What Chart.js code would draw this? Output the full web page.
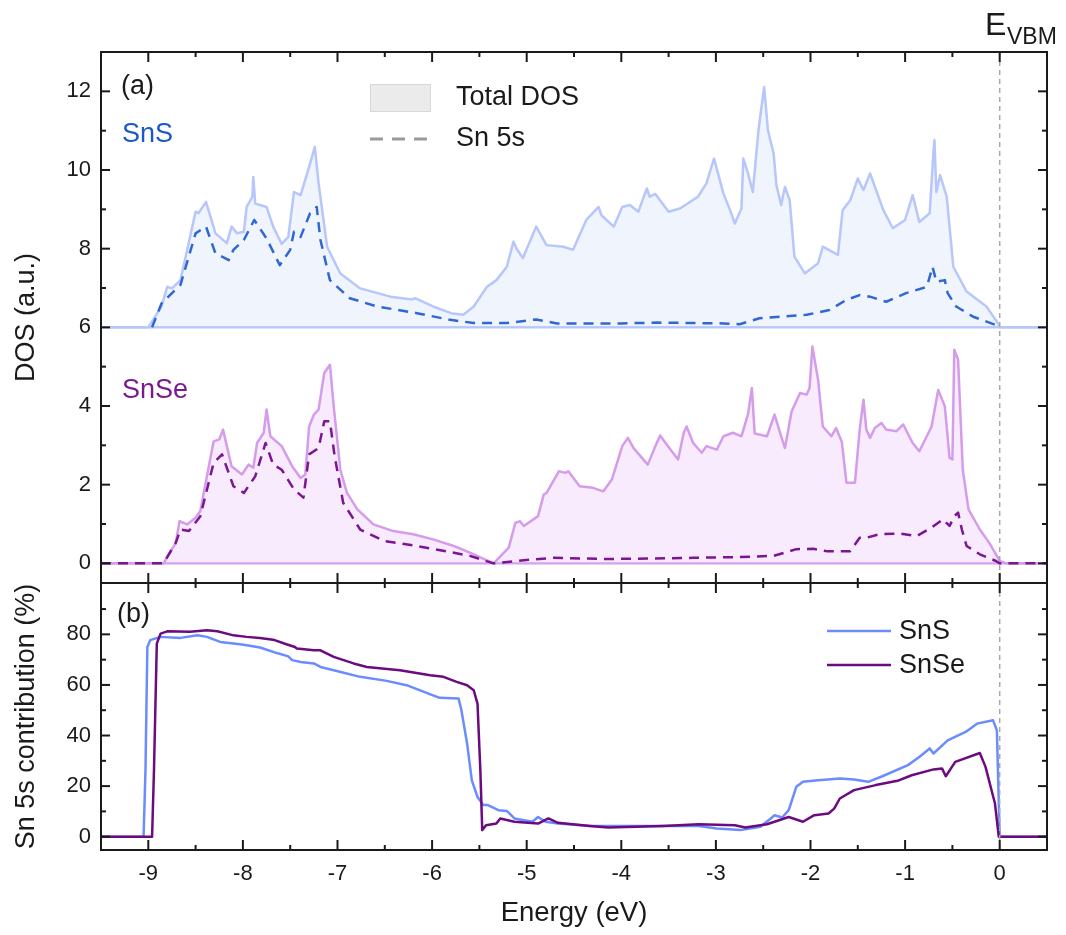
<!DOCTYPE html>
<html>
<head>
<meta charset="utf-8">
<script src="https://cdn.jsdelivr.net/npm/chart.js@4.4.1/dist/chart.umd.min.js"></script>
<style>
  body { margin: 0; background: #fff; }
  canvas { display: block; }
</style>
</head>
<body>
<canvas id="dosChart" width="1066" height="935"></canvas>
<script>
// tick labels
const xTicks = [-9, -8, -7, -6, -5, -4, -3, -2, -1, 0];
const yTopTicks = [0, 2, 4, 6, 8, 10, 12];
const yBotTicks = [0, 20, 40, 60, 80];

// SnS curve is shifted up by this much in panel (a)
const snsOffset = 6;

// panel (a): SnS total DOS
const snsTotalE = [-9.5, -9.0, -8.86, -8.80, -8.75, -8.66, -8.50, -8.47, -8.39, -8.29, -8.17, -8.12, -8.06, -7.99, -7.96, -7.90, -7.89, -7.87, -7.75, -7.68, -7.59, -7.52, -7.46, -7.39, -7.29, -7.24, -7.20, -7.11, -6.97, -6.76, -6.44, -6.21, -6.18, -5.99, -5.80, -5.67, -5.56, -5.42, -5.39, -5.32, -5.21, -5.14, -5.11, -5.04, -4.90, -4.79, -4.61, -4.51, -4.37, -4.24, -4.21, -4.08, -3.99, -3.91, -3.82, -3.73, -3.70, -3.64, -3.50, -3.38, -3.19, -3.10, -3.02, -2.92, -2.85, -2.80, -2.73, -2.71, -2.66, -2.61, -2.55, -2.49, -2.45, -2.39, -2.36, -2.31, -2.27, -2.22, -2.17, -2.06, -1.92, -1.87, -1.71, -1.66, -1.58, -1.50, -1.44, -1.37, -1.23, -1.13, -1.00, -0.92, -0.85, -0.74, -0.70, -0.69, -0.67, -0.63, -0.56, -0.49, -0.35, -0.14, -0.02, 0.0, 0.5];
const snsTotalDos = [0, 0, 0.53, 1.03, 0.99, 1.20, 2.94, 2.90, 3.19, 2.39, 2.14, 2.56, 2.39, 2.43, 3.06, 3.32, 3.82, 3.15, 3.06, 2.56, 2.12, 2.30, 3.44, 3.36, 4.16, 4.59, 3.66, 2.05, 1.37, 0.99, 0.78, 0.71, 0.74, 0.53, 0.36, 0.32, 0.53, 1.03, 1.08, 1.20, 1.54, 2.18, 2.01, 1.76, 2.56, 2.09, 2.05, 1.97, 2.73, 3.06, 2.85, 2.56, 3.06, 3.11, 2.94, 3.53, 3.32, 3.39, 2.94, 3.02, 3.32, 3.66, 4.29, 3.40, 2.98, 2.64, 3.02, 4.29, 3.91, 3.44, 5.01, 6.11, 5.01, 4.42, 3.61, 3.11, 3.57, 3.23, 1.80, 1.37, 1.63, 2.05, 1.84, 2.98, 3.23, 3.78, 3.49, 3.91, 2.98, 2.52, 2.73, 3.36, 2.68, 2.90, 4.46, 4.76, 3.44, 3.87, 3.32, 1.54, 0.91, 0.53, 0.11, 0, 0];

// panel (a): SnS Sn 5s
const snsS5E = [-8.96, -8.86, -8.66, -8.50, -8.39, -8.29, -8.15, -8.10, -7.99, -7.88, -7.75, -7.61, -7.50, -7.46, -7.39, -7.29, -7.22, -7.18, -7.08, -6.87, -6.58, -6.16, -5.81, -5.56, -5.21, -4.90, -4.68, -4.00, -3.62, -2.92, -2.75, -2.54, -2.04, -1.80, -1.62, -1.48, -1.37, -1.20, -0.99, -0.77, -0.71, -0.67, -0.58, -0.55, -0.46, -0.28, -0.04, 0];
const snsS5Dos = [0, 0.61, 1.08, 2.39, 2.56, 1.88, 1.71, 1.97, 2.22, 2.73, 2.26, 1.58, 1.97, 2.43, 2.30, 2.90, 3.06, 2.22, 1.20, 0.74, 0.53, 0.36, 0.19, 0.11, 0.11, 0.20, 0.10, 0.10, 0.12, 0.10, 0.08, 0.23, 0.32, 0.44, 0.70, 0.82, 0.78, 0.65, 0.87, 1.03, 1.54, 1.16, 1.20, 0.87, 0.53, 0.27, 0.06, 0];

// panel (a): SnSe total DOS
const snseTotalE = [-9.5, -8.84, -8.71, -8.67, -8.59, -8.50, -8.45, -8.31, -8.25, -8.21, -8.12, -8.01, -7.94, -7.89, -7.85, -7.78, -7.75, -7.71, -7.59, -7.48, -7.39, -7.34, -7.30, -7.25, -7.20, -7.14, -7.08, -7.04, -6.97, -6.90, -6.79, -6.62, -6.41, -6.20, -5.99, -5.77, -5.60, -5.35, -5.19, -5.12, -5.07, -5.03, -4.88, -4.82, -4.79, -4.66, -4.59, -4.56, -4.44, -4.30, -4.19, -4.10, -3.99, -3.93, -3.87, -3.72, -3.64, -3.59, -3.52, -3.40, -3.34, -3.31, -3.24, -3.15, -3.10, -2.99, -2.92, -2.82, -2.73, -2.66, -2.62, -2.59, -2.46, -2.38, -2.31, -2.27, -2.20, -2.11, -2.04, -2.01, -1.98, -1.92, -1.87, -1.78, -1.73, -1.67, -1.62, -1.53, -1.48, -1.44, -1.41, -1.37, -1.32, -1.25, -1.20, -1.09, -1.02, -0.92, -0.85, -0.72, -0.65, -0.58, -0.53, -0.50, -0.48, -0.44, -0.39, -0.33, -0.21, -0.11, 0, 0.07, 0.5];
const snseTotalDos = [0, 0, 0.52, 1.07, 0.99, 1.16, 1.33, 3.10, 3.15, 3.40, 2.47, 2.26, 2.51, 2.43, 3.06, 3.32, 3.91, 3.23, 2.98, 2.47, 2.17, 2.26, 3.48, 3.78, 3.91, 4.84, 5.05, 3.99, 2.38, 1.79, 1.37, 0.99, 0.82, 0.74, 0.61, 0.44, 0.27, 0, 0.40, 1.03, 1.07, 0.95, 1.20, 1.75, 1.79, 2.34, 2.30, 2.34, 1.96, 1.92, 1.83, 2.13, 2.98, 3.19, 2.93, 2.51, 2.98, 3.25, 3.02, 2.64, 3.32, 3.48, 3.06, 2.81, 2.98, 2.89, 3.23, 3.32, 3.23, 3.80, 4.46, 3.30, 3.23, 3.78, 3.23, 2.93, 3.86, 4.33, 4.29, 4.46, 5.51, 4.67, 3.48, 3.23, 3.44, 3.10, 2.05, 2.05, 3.40, 4.16, 3.40, 3.19, 3.44, 3.57, 3.40, 3.36, 3.53, 3.06, 2.85, 3.48, 4.41, 3.99, 2.68, 2.64, 5.43, 5.18, 2.38, 1.37, 0.86, 0.52, 0.06, 0, 0];

// panel (a): SnSe Sn 5s
const snseS5E = [-9.5, -8.84, -8.71, -8.66, -8.57, -8.45, -8.31, -8.22, -8.10, -7.99, -7.87, -7.76, -7.68, -7.59, -7.46, -7.36, -7.30, -7.20, -7.14, -7.08, -7.03, -6.94, -6.76, -6.51, -6.16, -5.77, -5.60, -5.35, -5.03, -4.72, -4.15, -3.73, -3.24, -2.75, -2.39, -2.15, -1.97, -1.83, -1.58, -1.48, -1.41, -1.27, -1.06, -0.88, -0.72, -0.60, -0.53, -0.48, -0.44, -0.40, -0.35, -0.21, -0.04, 0, 0.5];
const snseS5Dos = [0, 0, 0.52, 0.86, 0.82, 1.20, 2.55, 2.77, 1.96, 1.79, 2.21, 3.06, 2.51, 2.38, 1.88, 1.67, 2.77, 2.93, 3.61, 3.61, 2.72, 1.54, 0.86, 0.57, 0.44, 0.27, 0.19, 0, 0.08, 0.14, 0.11, 0.12, 0.14, 0.16, 0.19, 0.36, 0.37, 0.31, 0.31, 0.65, 0.65, 0.74, 0.76, 0.69, 0.91, 1.12, 0.95, 1.20, 1.29, 0.86, 0.44, 0.23, 0.06, 0, 0];

// zero line under both DOS curves
const baseE = [-9.5, 0.5];
const baseDos = [0, 0];

// panel (b): Sn 5s contribution (%)
const snsContribE = [-9.5, -9.05, -9.03, -9.01, -8.98, -8.87, -8.66, -8.48, -8.38, -8.24, -8.03, -7.96, -7.82, -7.64, -7.52, -7.48, -7.39, -7.25, -7.18, -7.04, -6.76, -6.48, -6.27, -5.99, -5.92, -5.72, -5.69, -5.63, -5.58, -5.52, -5.46, -5.41, -5.30, -5.21, -5.13, -4.94, -4.88, -4.80, -4.67, -4.33, -3.76, -3.18, -2.99, -2.74, -2.53, -2.42, -2.38, -2.30, -2.23, -2.15, -2.08, -1.92, -1.69, -1.54, -1.39, -1.24, -0.97, -0.85, -0.74, -0.70, -0.55, -0.36, -0.24, -0.07, -0.03, 0, 0.5];
const snsContrib = [0, 0, 26, 75, 77.7, 79, 78.6, 79.6, 79, 77, 76.1, 75.7, 74.8, 72.6, 71.3, 69.8, 69.1, 68.5, 67.1, 65.8, 63.2, 61.6, 59.9, 55.9, 54.9, 54.6, 50, 36.8, 22.3, 15.7, 12.5, 12.5, 10.5, 10.2, 7.2, 5.9, 7.8, 5.9, 5.2, 4.2, 4.2, 4.2, 3.2, 2.6, 3.9, 7.2, 8.5, 7.6, 10.5, 19.7, 21.7, 22.3, 23, 22.6, 21.7, 23.9, 28.3, 31.5, 34.9, 32.9, 38.1, 41.4, 44.7, 46, 42.1, 0, 0];

const snseContribE = [-9.5, -8.96, -8.94, -8.91, -8.87, -8.80, -8.56, -8.38, -8.27, -8.10, -7.96, -7.82, -7.68, -7.54, -7.45, -7.43, -7.25, -7.18, -7.04, -6.83, -6.69, -6.34, -6.02, -5.88, -5.74, -5.63, -5.56, -5.52, -5.49, -5.47, -5.43, -5.32, -5.28, -5.13, -4.88, -4.77, -4.67, -4.33, -4.14, -3.56, -3.18, -2.80, -2.69, -2.46, -2.23, -2.08, -1.96, -1.81, -1.75, -1.69, -1.54, -1.31, -1.08, -0.93, -0.70, -0.61, -0.57, -0.47, -0.21, -0.15, -0.05, -0.01, 0.5];
const snseContrib = [0, 0, 26.3, 76.4, 80.3, 81.2, 81, 81.6, 81.2, 79.6, 79, 78.6, 77.9, 76.1, 75, 74.4, 73.7, 73.7, 71.1, 68.5, 67.1, 65.8, 63.8, 63.2, 61.2, 59.9, 57.9, 52.6, 26.3, 2.6, 4.5, 5.2, 7.2, 5.9, 5.2, 7.2, 5.5, 4.2, 3.6, 4.2, 4.9, 4.5, 3.6, 4.9, 7.8, 5.9, 8.5, 9.2, 11.1, 15.1, 18.4, 20.4, 22.1, 24.3, 26.6, 27, 23.9, 29.6, 33.1, 27.6, 13.1, 0, 0];

const FONT = '"Liberation Sans", Arial, sans-serif';
Chart.defaults.font.family = FONT;
Chart.defaults.color = '#1a1a1a';

function pts(xs, ys, off) {
  return xs.map(function (x, i) { return { x: x, y: ys[i] + (off || 0) }; });
}

// frame, inward ticks, E_VBM line, panel labels and legends
const framePlugin = {
  id: 'frame',
  afterDatasetsDraw: function (chart) {
    const ctx = chart.ctx;
    const a = chart.chartArea;
    const x = chart.scales.x, yt = chart.scales.yTop, yb = chart.scales.yBot;
    const mid = yt.bottom;
    ctx.save();

    function seg(x1, y1, x2, y2) {
      ctx.beginPath(); ctx.moveTo(x1, y1); ctx.lineTo(x2, y2); ctx.stroke();
    }

    // VBM reference line
    const x0 = x.getPixelForValue(0);
    ctx.strokeStyle = '#a8a8a8';
    ctx.lineWidth = 1.5;
    ctx.setLineDash([5, 4]);
    seg(x0, a.top, x0, a.bottom);
    ctx.setLineDash([]);

    // frame
    ctx.strokeStyle = '#1a1a1a';
    ctx.lineWidth = 2;
    ctx.strokeRect(a.left, a.top, a.right - a.left, a.bottom - a.top);
    seg(a.left, mid, a.right, mid);

    // x ticks
    for (let k = -19; k <= 1; k++) {
      const px = x.getPixelForValue(k / 2);
      const len = k % 2 === 0 ? 10 : 5;
      seg(px, a.top, px, a.top + len);
      seg(px, mid - len, px, mid + len);
      seg(px, a.bottom, px, a.bottom - len);
    }
    // y ticks, top panel
    for (let v = 0; v <= 13; v++) {
      const py = yt.getPixelForValue(v);
      const len = v % 2 === 0 ? 9 : 5;
      seg(a.left, py, a.left + len, py);
      seg(a.right, py, a.right - len, py);
    }
    // y ticks, bottom panel
    for (let v = 0; v <= 90; v += 10) {
      const py = yb.getPixelForValue(v);
      const len = v % 20 === 0 ? 9 : 5;
      seg(a.left, py, a.left + len, py);
      seg(a.right, py, a.right - len, py);
    }

    // panel labels
    ctx.textBaseline = 'middle';
    ctx.textAlign = 'left';
    ctx.font = '27px ' + FONT;
    ctx.fillStyle = '#1a1a1a';
    ctx.fillText('(a)', 121, 87);
    ctx.fillText('(b)', 117, 615);
    ctx.fillStyle = '#1c58c9';
    ctx.fillText('SnS', 122, 135);
    ctx.fillStyle = '#7a1990';
    ctx.fillText('SnSe', 122, 391);

    // legend, panel (a)
    ctx.fillStyle = '#ebebeb';
    ctx.fillRect(370, 84, 61, 28);
    ctx.strokeStyle = '#d8d8d8';
    ctx.lineWidth = 1;
    ctx.strokeRect(370.5, 84.5, 60, 27);
    ctx.strokeStyle = '#9a9a9a';
    ctx.lineWidth = 3;
    ctx.setLineDash([13, 9]);
    seg(370, 139, 432, 139);
    ctx.setLineDash([]);
    ctx.fillStyle = '#1a1a1a';
    ctx.fillText('Total DOS', 456, 98);
    ctx.fillText('Sn 5s', 456, 139);

    // legend, panel (b)
    ctx.lineWidth = 2.5;
    ctx.strokeStyle = '#6a8cff';
    seg(827, 631, 891, 631);
    ctx.strokeStyle = '#6c0a80';
    seg(827, 665, 891, 665);
    ctx.fillText('SnS', 899, 632);
    ctx.fillText('SnSe', 899, 666);

    // E_VBM
    ctx.textBaseline = 'alphabetic';
    ctx.font = '32px ' + FONT;
    ctx.fillText('E', 985, 35);
    ctx.font = '23px ' + FONT;
    ctx.fillText('VBM', 1007, 44);

    ctx.restore();
  }
};

function setTicks(list) {
  return function (scale) { scale.ticks = list.map(function (v) { return { value: v }; }); };
}

const ctx = document.getElementById('dosChart');
const dosChart = new Chart(ctx, {
  type: 'line',
  data: {
    datasets: [
      {
        label: 'SnS Sn 5s',
        data: pts(snsS5E, snsS5Dos, snsOffset),
        yAxisID: 'yTop',
        borderColor: '#2f67d4',
        borderWidth: 2.5,
        borderDash: [10, 7],
        fill: false,
        order: 0,
      },
      {
        label: 'SnS total',
        data: pts(snsTotalE, snsTotalDos, snsOffset),
        yAxisID: 'yTop',
        borderColor: '#b7c6fb',
        borderWidth: 2.5,
        backgroundColor: 'rgba(205, 218, 250, 0.3)',
        fill: { value: snsOffset },
        order: 1,
      },
      {
        label: 'SnS base',
        data: pts(baseE, baseDos, snsOffset),
        yAxisID: 'yTop',
        borderColor: '#b7c6fb',
        borderWidth: 2.5,
        fill: false,
        order: 2,
      },
      {
        label: 'SnSe Sn 5s',
        data: pts(snseS5E, snseS5Dos),
        yAxisID: 'yTop',
        borderColor: '#7b1592',
        borderWidth: 2.5,
        borderDash: [10, 7],
        fill: false,
        order: 0,
      },
      {
        label: 'SnSe total',
        data: pts(snseTotalE, snseTotalDos),
        yAxisID: 'yTop',
        borderColor: '#d49ceb',
        borderWidth: 2.5,
        backgroundColor: 'rgba(240, 210, 250, 0.45)',
        fill: { value: 0 },
        order: 1,
      },
      {
        label: 'SnSe base',
        data: pts(baseE, baseDos),
        yAxisID: 'yTop',
        borderColor: '#d49ceb',
        borderWidth: 2.5,
        fill: false,
        order: 2,
      },
      {
        label: 'SnS',
        data: pts(snsContribE, snsContrib),
        yAxisID: 'yBot',
        borderColor: '#6a8cff',
        borderWidth: 2.5,
        fill: false,
        order: 1,
      },
      {
        label: 'SnSe',
        data: pts(snseContribE, snseContrib),
        yAxisID: 'yBot',
        borderColor: '#6c0a80',
        borderWidth: 2.5,
        fill: false,
        order: 0,
      },
    ],
  },
  options: {
    responsive: false,
    animation: false,
    layout: { padding: { top: 52, right: 19, left: 0, bottom: 0 } },
    elements: {
      point: { radius: 0 },
      line: { tension: 0, borderJoinStyle: 'round' },
    },
    plugins: {
      legend: { display: false },
      tooltip: { enabled: false },
    },
    scales: {
      x: {
        type: 'linear',
        position: 'bottom',
        min: -9.5,
        max: 0.5,
        grid: { display: false, drawTicks: false },
        border: { display: false },
        afterBuildTicks: setTicks(xTicks),
        afterFit: function (s) { s.height = 85; },
        ticks: { font: { size: 22 }, padding: 11, maxRotation: 0 },
        title: { display: true, text: 'Energy (eV)', font: { size: 27.5 }, padding: { top: 0, bottom: 5 } },
      },
      // left boxes are stacked bottom-up, so the lower panel is declared first
      yBot: {
        type: 'linear',
        position: 'left',
        stack: 'panels',
        stackWeight: 267,
        min: -5.26,
        max: 100.3,
        grid: { display: false, drawTicks: false },
        border: { display: false },
        afterBuildTicks: setTicks(yBotTicks),
        afterFit: function (s) { s.width = 101; },
        ticks: { font: { size: 22 }, padding: 10 },
        title: { display: true, text: 'Sn 5s contribution (%)', font: { size: 27 }, padding: { top: 10, bottom: 0 } },
      },
      yTop: {
        type: 'linear',
        position: 'left',
        stack: 'panels',
        stackWeight: 531,
        min: -0.5,
        max: 13,
        grid: { display: false, drawTicks: false },
        border: { display: false },
        afterBuildTicks: setTicks(yTopTicks),
        afterFit: function (s) { s.width = 101; },
        ticks: { font: { size: 22 }, padding: 10 },
        title: { display: true, text: 'DOS (a.u.)', font: { size: 27 }, padding: { top: 10, bottom: 0 } },
      },
    },
  },
  plugins: [framePlugin],
});
</script>
</body>
</html>
